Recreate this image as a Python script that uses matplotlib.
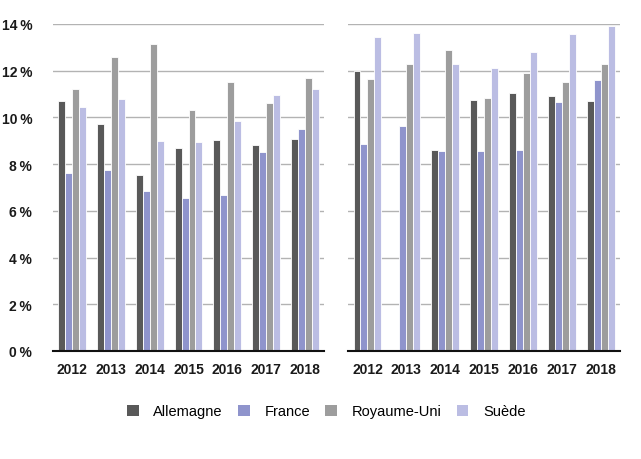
import numpy as np
import matplotlib.pyplot as plt
from matplotlib.patches import Patch

plt.rcParams['font.family'] = ['Liberation Sans', 'DejaVu Sans']

years = ['2012', '2013', '2014', '2015', '2016', '2017', '2018']
countries = ['Allemagne', 'France', 'Royaume-Uni', 'Suède']
colors = ['#595959', '#8f94cc', '#9d9d9d', '#bbbde3']

# left panel
left_allemagne = [10.7, 9.7, 7.53, 8.69, 9.05, 8.82, 9.09]
left_france = [7.62, 7.73, 6.85, 6.54, 6.69, 8.52, 9.49]
left_ru = [11.2, 12.6, 13.15, 10.32, 11.52, 10.62, 11.69]
left_suede = [10.46, 10.8, 8.99, 8.93, 9.86, 10.96, 11.2]

# right panel (no value for Allemagne in 2013)
right_allemagne = [12.0, np.nan, 8.61, 10.74, 11.06, 10.91, 10.7]
right_france = [8.88, 9.64, 8.55, 8.57, 8.62, 10.65, 11.58]
right_ru = [11.66, 12.27, 12.89, 10.82, 11.88, 11.5, 12.29]
right_suede = [13.46, 13.63, 12.3, 12.1, 12.8, 13.55, 13.9]

yticks = [0, 2, 4, 6, 8, 10, 12, 14]


def draw_panel(ax, series, show_labels):
    x = np.arange(len(years))
    w = 0.18
    for i, vals in enumerate(series):
        ax.bar(x + (i - 1.5) * w, vals, width=w, color=colors[i],
               edgecolor='white', linewidth=0.6, zorder=3)
    ax.set_xlim(-0.5, len(years) - 0.5)
    ax.set_ylim(0, 14)
    ax.set_yticks(yticks)
    ax.yaxis.grid(True, color='#b3b3b3', linewidth=1.0, zorder=0)
    ax.set_axisbelow(True)
    ax.set_xticks(x)
    ax.set_xticklabels(years, fontsize=10, fontweight='bold', color='#1a1a1a')
    if show_labels:
        ax.set_yticklabels([f'{t}\u2009%' for t in yticks], fontsize=10,
                           fontweight='bold', color='#1a1a1a')
    else:
        ax.set_yticklabels([])
    ax.tick_params(axis='x', length=0, pad=8)
    ax.tick_params(axis='y', length=0, pad=15)
    for s in ['top', 'right', 'left']:
        ax.spines[s].set_visible(False)
    ax.spines['bottom'].set_color('#111111')
    ax.spines['bottom'].set_linewidth(1.5)
    ax.spines['bottom'].set_zorder(4)


fig = plt.figure(figsize=(6.41, 4.6), dpi=100)
ax1 = fig.add_axes([0.0827, 0.2348, 0.4228, 0.711])
ax2 = fig.add_axes([0.543, 0.2348, 0.4243, 0.711])

draw_panel(ax1, [left_allemagne, left_france, left_ru, left_suede], True)
draw_panel(ax2, [right_allemagne, right_france, right_ru, right_suede], False)

handles = [Patch(facecolor=c, edgecolor='none') for c in colors]
fig.legend(handles, countries, loc='center', bbox_to_anchor=(0.509, 0.104),
           ncol=4, frameon=False, fontsize=10.5, handlelength=0.8,
           handleheight=0.8, handletextpad=1.0, columnspacing=1.05)

fig.savefig('out.png', dpi=100)
